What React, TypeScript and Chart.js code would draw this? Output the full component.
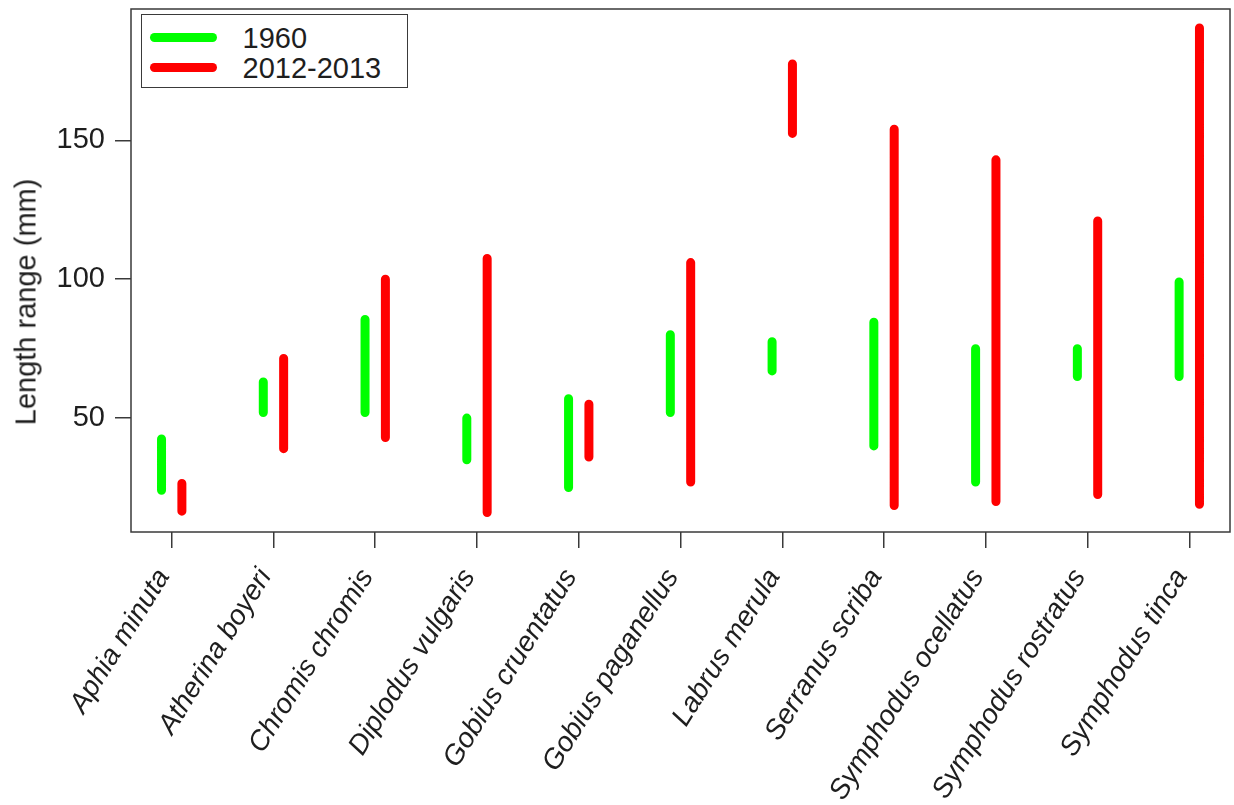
import React, { useEffect, useRef } from "react";
import { Chart, registerables } from "chart.js";

Chart.register(...registerables);

const species = [
  "Aphia minuta",
  "Atherina boyeri",
  "Chromis chromis",
  "Diplodus vulgaris",
  "Gobius cruentatus",
  "Gobius paganellus",
  "Labrus merula",
  "Serranus scriba",
  "Symphodus ocellatus",
  "Symphodus rostratus",
  "Symphodus tinca",
];

const seriesNames = ["1960", "2012-2013"];
const seriesColors = ["#00ff00", "#ff0000"];

const min1960 = [24, 52, 52, 35, 25, 52, 67, 40, 27, 65, 65];
const max1960 = [42.5, 63, 85.5, 50, 57, 80, 77.5, 84.5, 75, 75, 99];
const min2012 = [16.5, 39, 43, 16, 36, 27, 152.5, 18.5, 20, 22.5, 19];
const max2012 = [26.5, 71.5, 100, 107.5, 55, 106, 177.5, 154, 143, 121, 190.5];

const yTickValues = [50, 100, 150];

const GROUP_OFFSET = 0.1;
const FONT = "'Liberation Sans', Arial, Helvetica, sans-serif";
const FONT_SIZE = 29;
const X_FONT_SIZE = 28;
const TEXT_COLOR = "#1e1e1e";
const AXIS_COLOR = "#3a3a3a";

function segments(lows: number[], highs: number[], offset: number) {
  const pts: { x: number; y: number | null }[] = [];
  species.forEach((_, i) => {
    pts.push({ x: i + offset, y: lows[i] });
    pts.push({ x: i + offset, y: highs[i] });
    pts.push({ x: i + offset, y: null });
  });
  return pts;
}

const framePlugin = {
  id: "frame",
  afterDraw(chart: any) {
    const { ctx, chartArea } = chart;
    const { left, top, right, bottom } = chartArea;
    ctx.save();
    ctx.strokeStyle = AXIS_COLOR;
    ctx.lineWidth = 1.5;
    ctx.strokeRect(left, top, right - left, bottom - top);
    ctx.restore();
  },
};

function zeroPadding(s: any) {
  s.paddingTop = 0;
  s.paddingBottom = 0;
  s.paddingLeft = 0;
  s.paddingRight = 0;
}

export default function App() {
  const canvasRef = useRef<HTMLCanvasElement | null>(null);

  useEffect(() => {
    if (!canvasRef.current) return;
    const chart = new Chart(canvasRef.current, {
      type: "line",
      data: {
        datasets: [
          {
            label: seriesNames[0],
            data: segments(min1960, max1960, -GROUP_OFFSET),
            borderColor: seriesColors[0],
            backgroundColor: seriesColors[0],
            borderWidth: 9,
            borderCapStyle: "round",
            pointRadius: 0,
            spanGaps: false,
            fill: false,
          },
          {
            label: seriesNames[1],
            data: segments(min2012, max2012, GROUP_OFFSET),
            borderColor: seriesColors[1],
            backgroundColor: seriesColors[1],
            borderWidth: 9,
            borderCapStyle: "round",
            pointRadius: 0,
            spanGaps: false,
            fill: false,
          },
        ],
      },
      options: {
        animation: false,
        responsive: false,
        layout: { padding: { top: 9, right: 4, left: 0, bottom: 0 } },
        plugins: {
          legend: { display: false },
          tooltip: { enabled: false },
          title: { display: false },
        },
        scales: {
          x: {
            type: "linear",
            min: -0.4,
            max: 10.4,
            afterBuildTicks: (s: any) => {
              s.ticks = species.map((_, i) => ({ value: i }));
            },
            afterFit: (s: any) => {
              s.height = 805 - 532;
              zeroPadding(s);
            },
            border: { display: false },
            grid: {
              display: true,
              drawOnChartArea: false,
              drawTicks: true,
              tickLength: 16,
              color: AXIS_COLOR,
              lineWidth: 1.5,
            },
            ticks: {
              autoSkip: false,
              minRotation: 58,
              maxRotation: 58,
              padding: 15,
              labelOffset: -8,
              color: TEXT_COLOR,
              font: { family: FONT, size: X_FONT_SIZE, style: "italic" },
              callback: (v: any) => species[v] ?? "",
            },
          },
          y: {
            type: "linear",
            min: 9,
            max: 197.3,
            afterBuildTicks: (s: any) => {
              s.ticks = yTickValues.map((v) => ({ value: v }));
            },
            afterFit: (s: any) => {
              s.width = 131;
              zeroPadding(s);
            },
            border: { display: false },
            grid: {
              display: true,
              drawOnChartArea: false,
              drawTicks: true,
              tickLength: 16,
              color: AXIS_COLOR,
              lineWidth: 1.5,
            },
            ticks: {
              padding: 10,
              color: TEXT_COLOR,
              font: { family: FONT, size: FONT_SIZE },
            },
          },
        },
      },
      plugins: [framePlugin],
    } as any);
    return () => chart.destroy();
  }, []);

  return (
    <div
      style={{
        position: "absolute",
        left: 0,
        top: 0,
        width: 1234,
        height: 805,
        background: "#ffffff",
        fontFamily: FONT,
      }}
    >
      <canvas ref={canvasRef} width={1234} height={805} style={{ display: "block" }} />
      <div
        style={{
          position: "absolute",
          left: 25.5,
          top: 301.5,
          transform: "translate(-50%, -50%) rotate(-90deg)",
          whiteSpace: "nowrap",
          fontSize: FONT_SIZE,
          lineHeight: `${FONT_SIZE}px`,
          color: TEXT_COLOR,
        }}
      >
        Length range (mm)
      </div>
      <div
        style={{
          position: "absolute",
          left: 140.5,
          top: 14,
          width: 267,
          height: 74,
          boxSizing: "border-box",
          border: `1.5px solid ${AXIS_COLOR}`,
          background: "#ffffff",
        }}
      >
        {seriesNames.map((name, i) => (
          <div
            key={name}
            style={{
              position: "absolute",
              left: 0,
              top: 7.5 + i * 30,
              height: 30,
              width: "100%",
            }}
          >
            <div
              style={{
                position: "absolute",
                left: 8.5,
                top: 10.5,
                width: 67,
                height: 9,
                borderRadius: 4.5,
                background: seriesColors[i],
              }}
            />
            <div
              style={{
                position: "absolute",
                left: 101,
                top: 0,
                height: 30,
                lineHeight: "30px",
                fontSize: FONT_SIZE,
                color: TEXT_COLOR,
                whiteSpace: "nowrap",
              }}
            >
              {name}
            </div>
          </div>
        ))}
      </div>
    </div>
  );
}
